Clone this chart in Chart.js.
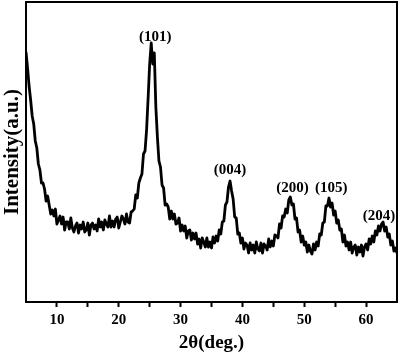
<!DOCTYPE html>
<html>
<head>
<meta charset="utf-8">
<script src="https://cdn.jsdelivr.net/npm/chart.js@4.4.0/dist/chart.umd.min.js"></script>
<style>
html,body{margin:0;padding:0;background:#fff;}
#wrap{width:400px;height:354px;position:relative;}
</style>
</head>
<body>
<div id="wrap"><canvas id="c" width="400" height="354"></canvas></div>
<script>
// 2θ sampling positions (degrees)
const twoTheta = [
5,5.25,5.5,5.75, 6,6.25,6.5,6.75, 7,7.25,7.5,7.75, 8,8.25,8.5,8.75, 9,9.25,9.5,9.75,
10,10.25,10.5,10.75, 11,11.25,11.5,11.75, 12,12.25,12.5,12.75, 13,13.25,13.5,13.75, 14,14.25,14.5,14.75,
15,15.25,15.5,15.75, 16,16.25,16.5,16.75, 17,17.25,17.5,17.75, 18,18.25,18.5,18.75, 19,19.25,19.5,19.75,
20,20.25,20.5,20.75, 21,21.25,21.5,21.75, 22,22.25,22.5,22.75, 23,23.25,23.5,23.75, 24,24.25,24.5,24.75,
25,25.25,25.5,25.75, 26,26.25,26.5,26.75, 27,27.25,27.5,27.75, 28,28.25,28.5,28.75, 29,29.25,29.5,29.75,
30,30.25,30.5,30.75, 31,31.25,31.5,31.75, 32,32.25,32.5,32.75, 33,33.25,33.5,33.75, 34,34.25,34.5,34.75,
35,35.25,35.5,35.75, 36,36.25,36.5,36.75, 37,37.25,37.5,37.75, 38,38.25,38.5,38.75, 39,39.25,39.5,39.75,
40,40.25,40.5,40.75, 41,41.25,41.5,41.75, 42,42.25,42.5,42.75, 43,43.25,43.5,43.75, 44,44.25,44.5,44.75,
45,45.25,45.5,45.75, 46,46.25,46.5,46.75, 47,47.25,47.5,47.75, 48,48.25,48.5,48.75, 49,49.25,49.5,49.75,
50,50.25,50.5,50.75, 51,51.25,51.5,51.75, 52,52.25,52.5,52.75, 53,53.25,53.5,53.75, 54,54.25,54.5,54.75,
55,55.25,55.5,55.75, 56,56.25,56.5,56.75, 57,57.25,57.5,57.75, 58,58.25,58.5,58.75, 59,59.25,59.5,59.75,
60,60.25,60.5,60.75, 61,61.25,61.5,61.75, 62,62.25,62.5,62.75, 63,63.25,63.5,63.75, 64,64.25,64.5,64.75,
65
];

// Intensity (a.u.)
const intensity = [
250,234,216,202, 186,178,161,154, 138,132,119,119, 113,101,106,97, 88,92,86,93,
78,82,86,78, 85,72,80,80, 73,84,74,70, 76,79,69,77, 73,80,70,72,
79,67,77,79, 73,77,71,83, 75,80,72,82, 78,75,86,75, 81,75,83,85,
74,80,86,83, 78,88,80,79, 90,91,93,107, 104,119,124,128, 148,151,172,204,
238,259,238,249, 195,165,141,135, 117,114,97,98, 95,83,91,83, 88,78,79,84,
71,77,71,76, 64,71,72,62, 69,63,69,58, 63,54,64,60, 55,64,55,60,
54,65,59,66, 61,72,68,80, 81,97,100,115, 121,111,103,85, 84,68,69,59,
64,53,59,57, 49,59,52,57, 49,60,53,51, 59,49,58,56, 52,63,55,61,
56,67,66,64, 78,74,86,85, 93,89,102,105, 97,98,83,84, 70,72,60,66,
57,60,50,57, 51,48,58,52, 60,56,68,67, 79,80,96,96, 104,95,99,87,
91,79,82,72, 73,60,67,56, 60,52,60,49, 55,57,47,55, 50,57,46,55,
58,52,63,58, 66,60,71,67, 76,71,78,80, 71,75,65,68, 57,61,51,54,
49
];

// Axis ticks
const majorTicks = [10, 20, 30, 40, 50, 60];
const minorTicks = [15, 25, 35, 45, 55];

// Peak annotations (Miller indices) and where they sit (2θ, intensity)
const peakLabels = ['(101)', '(004)', '(200)', '(105)', '(204)'];
const peakAngles = [25.9, 38.0, 48.1, 54.35, 62.1];
const peakLevels = [265, 132, 114, 114, 86];

const serif = '"Liberation Serif", "Times New Roman", serif';

const points = twoTheta.map((t, i) => ({ x: t, y: intensity[i] }));

const frame = {
  id: 'frame',
  afterDraw(chart) {
    const { ctx, chartArea: a } = chart;
    ctx.save();
    ctx.strokeStyle = '#000';
    ctx.lineWidth = 2;
    ctx.strokeRect(a.left, a.top, a.right - a.left, a.bottom - a.top);
    ctx.restore();
  }
};

const peaks = {
  id: 'peaks',
  afterDatasetsDraw(chart) {
    const { ctx, scales } = chart;
    ctx.save();
    ctx.fillStyle = '#000';
    ctx.font = 'bold 15px ' + serif;
    ctx.textAlign = 'center';
    ctx.textBaseline = 'middle';
    peakLabels.forEach((t, i) => {
      ctx.fillText(t, scales.x.getPixelForValue(peakAngles[i]), scales.y.getPixelForValue(peakLevels[i]));
    });
    ctx.restore();
  }
};

new Chart(document.getElementById('c'), {
  type: 'line',
  data: {
    datasets: [{
      data: points,
      borderColor: '#000',
      borderWidth: 2.8,
      pointRadius: 0,
      tension: 0,
      fill: false,
      borderJoinStyle: 'round'
    }]
  },
  options: {
    responsive: false,
    animation: false,
    devicePixelRatio: 1,
    layout: { padding: { top: 2, right: 3, left: 0, bottom: 0 } },
    plugins: { legend: { display: false }, tooltip: { enabled: false } },
    scales: {
      x: {
        type: 'linear',
        min: 5,
        max: 65,
        afterBuildTicks(scale) {
          scale.ticks = majorTicks.concat(minorTicks).sort((a, b) => a - b).map(v => ({ value: v }));
        },
        afterFit(scale) { scale.height = 52; },
        ticks: {
          color: '#000',
          padding: 4,
          maxRotation: 0,
          autoSkip: false,
          font: { family: serif, size: 15, weight: 'bold' },
          callback: v => (majorTicks.includes(v) ? String(v) : '')
        },
        grid: { display: true, drawOnChartArea: false, drawTicks: true, tickLength: 5, tickWidth: 2, tickColor: '#000', color: '#000' },
        border: { display: true, color: '#000', width: 2 },
        title: { display: true, text: '2θ(deg.)', color: '#000', padding: 0, font: { family: serif, size: 19, weight: 'bold' } }
      },
      y: {
        min: 0,
        max: 300,
        afterFit(scale) { scale.width = 26; },
        ticks: { display: false },
        grid: { display: false },
        border: { display: true, color: '#000', width: 2 },
        title: { display: true, text: 'Intensity(a.u.)', color: '#000', padding: 0, font: { family: serif, size: 21, weight: 'bold' } }
      }
    }
  },
  plugins: [frame, peaks]
});
</script>
</body>
</html>
